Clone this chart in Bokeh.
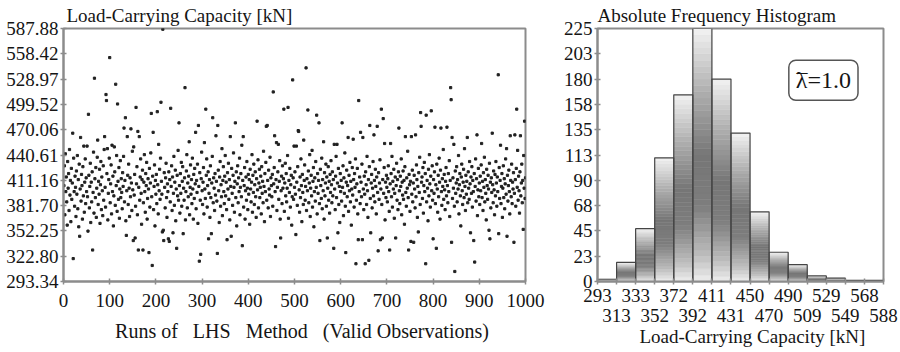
from bokeh.plotting import figure
from bokeh.layouts import row
from bokeh.models import FixedTicker, LinearAxis, Range1d, Label
from bokeh.embed import file_html
from bokeh.resources import INLINE

# ---------------- data ----------------
load_capacity = [
    405, 428, 371, 442, 398, 415, 386, 359, 433, 402, 419, 376, 447, 394, 411, 363, 425, 389, 408, 466, 320, 437, 398, 381, 416,
    403, 369, 422, 395, 440, 378, 412, 357, 430, 346, 401, 461, 387, 418, 405, 366, 427, 393, 451, 374, 409, 436, 384, 414, 398,
    451, 392, 352, 488, 417, 379, 404, 431, 362, 409, 386, 421, 330, 397, 444, 373, 530, 413, 391, 426, 368, 402, 438, 458, 383,
    410, 395, 424, 361, 406, 433, 377, 415, 399, 370, 428, 388, 447, 462, 403, 380, 511, 504, 419, 448, 365, 396, 412, 437, 554,
    385, 407, 429, 372, 452, 398, 416, 358, 393, 450, 421, 382, 523, 405, 440, 375, 500, 410, 389, 426, 367, 401, 434, 391, 413,
    397, 378, 420, 404, 439, 472, 386, 411, 484, 364, 347, 399, 462, 417, 383, 430, 402, 369, 414, 392, 471, 408, 376, 445, 400,
    341, 450, 394, 418, 344, 381, 496, 407, 427, 371, 468, 330, 403, 462, 388, 415, 436, 396, 360, 412, 423, 330, 385, 409, 441,
    398, 374, 419, 405, 432, 366, 390, 413, 401, 327, 425, 380, 408, 443, 489, 392, 312, 416, 467, 377, 404, 429, 358, 411, 395,
    418, 384, 491, 406, 372, 453, 399, 424, 389, 437, 502, 410, 395, 351, 587, 353, 341, 420, 403, 379, 414, 431, 391, 368, 407,
    398, 343, 421, 340, 412, 386, 495, 404, 428, 376, 415, 350, 396, 439, 382, 409, 423, 364, 401, 332, 417, 393, 446, 388, 478,
    405, 373, 419, 396, 432, 381, 410, 427, 349, 402, 388, 414, 519, 365, 398, 422, 441, 379, 408, 392, 416, 456, 371, 403, 429,
    395, 412, 384, 437, 401, 366, 418, 390, 425, 407, 467, 378, 411, 397, 430, 361, 475, 404, 317, 420, 388, 325, 413, 444, 399,
    383, 409, 426, 372, 455, 401, 390, 494, 417, 436, 380, 405, 421, 343, 396, 412, 368, 428, 391, 349, 408, 439, 484, 385, 414,
    402, 376, 419, 394, 463, 410, 387, 326, 475, 423, 399, 362, 415, 433, 381, 406, 392, 448, 370, 411, 427, 398, 384, 416, 440,
    393, 409, 377, 342, 420, 401, 431, 389, 412, 365, 462, 404, 346, 425, 396, 382, 417, 443, 403, 374, 410, 478, 391, 421, 358,
    407, 428, 385, 414, 398, 437, 371, 403, 419, 392, 452, 335, 411, 462, 380, 405, 426, 366, 399, 415, 388, 433, 402, 377, 418,
    395, 412, 360, 424, 401, 386, 409, 441, 374, 417, 397, 430, 383, 406, 421, 392, 368, 413, 480, 400, 435, 379, 408, 424, 391,
    403, 416, 372, 427, 396, 410, 385, 445, 404, 363, 419, 398, 432, 474, 388, 475, 411, 379, 423, 401, 394, 438, 369, 414, 405,
    392, 418, 381, 514, 407, 426, 463, 398, 334, 412, 455, 376, 403, 421, 453, 389, 410, 434, 366, 344, 399, 416, 384, 428, 402,
    413, 494, 375, 408, 431, 393, 419, 386, 402, 440, 496, 367, 411, 397, 425, 380, 406, 417, 359, 392, 528, 414, 389, 451, 403,
    421, 395, 348, 451, 409, 382, 427, 469, 468, 400, 374, 415, 391, 436, 405, 363, 418, 397, 383, 458, 411, 429, 388, 404, 542,
    376, 413, 399, 493, 422, 385, 408, 441, 369, 402, 417, 393, 446, 380, 410, 426, 357, 398, 414, 387, 433, 403, 487, 372, 419,
    396, 411, 478, 384, 341, 424, 405, 390, 437, 378, 412, 399, 456, 366, 420, 393, 408, 430, 381, 415, 344, 402, 427, 388, 410,
    373, 418, 397, 434, 406, 385, 421, 393, 412, 332, 453, 401, 377, 416, 439, 391, 453, 408, 350, 425, 383, 404, 362, 419, 398,
    411, 387, 478, 403, 428, 370, 414, 396, 443, 381, 327, 409, 423, 392, 405, 461, 375, 417, 399, 432, 386, 410, 359, 401, 426,
    394, 459, 412, 380, 419, 403, 436, 314, 388, 407, 425, 372, 342, 504, 398, 415, 384, 467, 409, 392, 430, 342, 461, 401, 377,
    416, 395, 314, 421, 406, 383, 439, 399, 368, 412, 318, 427, 475, 390, 350, 408, 418, 379, 402, 433, 393, 464, 411, 386, 424,
    404, 372, 415, 474, 397, 329, 420, 389, 408, 435, 342, 401, 494, 383, 344, 412, 483, 396, 426, 454, 365, 409, 391, 417, 403,
    386, 413, 428, 398, 375, 330, 407, 454, 419, 392, 439, 380, 410, 401, 424, 367, 396, 415, 344, 405, 431, 388, 412, 377, 421,
    472, 399, 384, 416, 404, 436, 371, 409, 394, 422, 389, 411, 360, 427, 462, 397, 381, 414, 402, 445, 391, 330, 418, 406, 375,
    410, 340, 462, 395, 423, 386, 408, 339, 417, 401, 379, 464, 392, 429, 412, 368, 404, 351, 420, 397, 438, 383, 490, 474, 409,
    415, 390, 426, 373, 405, 432, 398, 419, 314, 487, 386, 411, 402, 364, 424, 393, 441, 407, 380, 416, 492, 399, 428, 388, 343,
    412, 396, 421, 473, 384, 406, 332, 430, 401, 374, 417, 392, 437, 409, 366, 423, 472, 398, 382, 413, 404, 447, 389, 418, 400,
    377, 410, 426, 393, 473, 405, 385, 419, 398, 434, 369, 411, 519, 505, 339, 461, 390, 414, 402, 453, 381, 305, 422, 396, 408,
    427, 386, 412, 401, 440, 372, 406, 419, 393, 358, 415, 430, 399, 383, 409, 424, 391, 448, 404, 376, 417, 395, 410, 461, 385,
    421, 402, 389, 433, 407, 350, 415, 396, 427, 380, 411, 398, 341, 419, 316, 404, 436, 387, 413, 464, 370, 400, 425, 392, 408,
    383, 416, 399, 429, 454, 391, 410, 376, 420, 403, 438, 386, 412, 396, 365, 424, 405, 389, 417, 401, 353, 431, 343, 409, 379,
    414, 397, 466, 406, 385, 422, 400, 371, 418, 393, 433, 408, 381, 415, 398, 534, 349, 426, 390, 411, 452, 384, 404, 419, 368,
    402, 428, 391, 413, 378, 407, 436, 395, 448, 346, 417, 387, 405, 423, 398, 372, 463, 411, 392, 430, 384, 409, 401, 420, 339,
    396, 464, 412, 381, 425, 494, 403, 446, 388, 416, 399, 373, 421, 463, 393, 408, 430, 385, 411, 354, 440, 402, 480, 390, 414,
]
runs = list(range(1, len(load_capacity) + 1))

run_ticks = [0, 100, 200, 300, 400, 500, 600, 700, 800, 900, 1000]
capacity_ticks = [293.34, 322.80, 352.25, 381.70, 411.16, 440.61, 470.06, 499.52, 528.97, 558.42, 587.88]
capacity_tick_labels = ["293.34", "322.80", "352.25", "381.70", "411.16", "440.61",
                        "470.06", "499.52", "528.97", "558.42", "587.88"]

bin_edges = [293.34, 312.98, 332.61, 352.25, 371.89, 391.52, 411.16, 430.80,
             450.43, 470.07, 489.70, 509.34, 528.98, 548.61, 568.25, 587.88]
bin_edge_labels = ["293", "313", "333", "352", "372", "392", "411", "431",
                   "450", "470", "490", "509", "529", "549", "568", "588"]
bin_counts = [2, 17, 47, 110, 166, 225, 180, 132, 62, 26, 15, 5, 3, 1, 1]

freq_ticks = [0, 22.5, 45, 67.5, 90, 112.5, 135, 157.5, 180, 202.5, 225]
freq_tick_labels = ["0", "23", "45", "68", "90", "113", "135", "158", "180", "203", "225"]

FONT = "Liberation Serif"
TXT = "#151515"
AX = "#8c8c8c"


def style_axis(ax, size="19px"):
    ax.axis_line_color = AX
    ax.axis_line_width = 2
    ax.major_tick_line_color = AX
    ax.major_tick_line_width = 1.5
    ax.major_tick_in = 3
    ax.major_tick_out = 3
    ax.minor_tick_line_color = None
    ax.major_label_text_font = FONT
    ax.major_label_text_font_size = size
    ax.major_label_text_color = TXT
    ax.axis_label_text_font = FONT
    ax.axis_label_text_font_style = "normal"
    ax.axis_label_text_color = TXT


def style_frame(p):
    p.title.text_font = FONT
    p.title.text_font_size = "19px"
    p.title.text_font_style = "normal"
    p.title.text_color = TXT
    p.title.standoff = 5
    p.grid.visible = False
    p.outline_line_color = AX
    p.outline_line_width = 2


# ---------------- left: scatter ----------------
p1 = figure(width=560, height=352, output_backend="svg", toolbar_location=None,
            x_range=Range1d(0, 1000), y_range=Range1d(293.34, 587.88),
            min_border_left=63, min_border_right=35, min_border_top=28, min_border_bottom=70)
p1.title.text = "Load-Carrying Capacity [kN]"
style_frame(p1)
p1.title.offset = 3

style_axis(p1.xaxis[0])
style_axis(p1.yaxis[0])
p1.xaxis.ticker = FixedTicker(ticks=run_ticks)
p1.yaxis.ticker = FixedTicker(ticks=capacity_ticks)
p1.yaxis.major_label_overrides = {t: l for t, l in zip(capacity_ticks, capacity_tick_labels)}
p1.xaxis.major_label_standoff = 9
p1.yaxis.major_label_standoff = 2
p1.xaxis.axis_label = "\u00a0\u00a0\u00a0Runs of\u00a0\u00a0 LHS\u00a0\u00a0 Method\u00a0\u00a0 (Valid Observations)"
p1.xaxis.axis_label_text_font_size = "20px"
p1.xaxis.axis_label_standoff = 10

p1.scatter(runs, load_capacity, marker="square", size=2.2, color="#202020")

# ---------------- right: histogram ----------------
p2 = figure(width=340, height=352, output_backend="svg", toolbar_location=None,
            x_range=Range1d(bin_edges[0], bin_edges[-1]), y_range=Range1d(0, 225),
            min_border_left=35, min_border_right=17, min_border_top=28, min_border_bottom=71)
p2.title.text = "Absolute Frequency Histogram"
style_frame(p2)
p2.title.offset = 0

style_axis(p2.yaxis[0])
p2.yaxis.ticker = FixedTicker(ticks=freq_ticks)
p2.yaxis.major_label_overrides = {t: l for t, l in zip(freq_ticks, freq_tick_labels)}
p2.yaxis.major_label_standoff = 2

ax_top = p2.xaxis[0]
style_axis(ax_top)
ax_top.ticker = FixedTicker(ticks=bin_edges)
ax_top.major_label_overrides = {t: (l if i % 2 == 0 else "") for i, (t, l) in
                                enumerate(zip(bin_edges, bin_edge_labels))}
ax_top.major_label_standoff = 4

ax_bot = LinearAxis(ticker=FixedTicker(ticks=bin_edges[1::2]))
style_axis(ax_bot)
ax_bot.axis_line_color = None
ax_bot.major_tick_line_color = None
ax_bot.major_tick_in = 0
ax_bot.major_tick_out = 0
ax_bot.major_label_overrides = {t: l for t, l in zip(bin_edges[1::2], bin_edge_labels[1::2])}
ax_bot.major_label_standoff = 4
ax_bot.axis_label = "\u00a0\u00a0\u00a0\u00a0\u00a0Load-Carrying Capacity [kN]"
ax_bot.axis_label_text_font_size = "19px"
ax_bot.axis_label_standoff = 1
p2.add_layout(ax_bot, "below")

# gradient bars built from stacked slices of each bar
profile = [(0.0, 238), (0.1, 190), (0.3, 125), (0.5, 118), (0.75, 175), (1.0, 242)]


def shade(f):
    for (f0, g0), (f1, g1) in zip(profile[:-1], profile[1:]):
        if f0 <= f <= f1:
            g = g0 + (g1 - g0) * (f - f0) / (f1 - f0)
            g = int(round(g))
            return "#%02x%02x%02x" % (g, g, g)
    return "#ffffff"


N = 40
L, R, B, T, C = [], [], [], [], []
for i, c in enumerate(bin_counts):
    for j in range(N):
        L.append(bin_edges[i])
        R.append(bin_edges[i + 1])
        B.append(c * j / N)
        T.append(c * (j + 1) / N)
        C.append(shade((j + 0.5) / N))
p2.quad(left=L, right=R, bottom=B, top=T, fill_color=C, line_color=C, line_width=0.5)
p2.quad(left=bin_edges[:-1], right=bin_edges[1:], bottom=0, top=bin_counts,
        fill_color=None, line_color="#454545", line_width=1.2)

p2.add_layout(Label(x=526, y=179, text="\u03bb=1.0", text_font=FONT, text_font_size="24px",
                    text_color=TXT, text_align="center", text_baseline="middle",
                    border_line_color="#555555", border_line_width=1.5, border_radius=7,
                    background_fill_color="white", padding=7))
p2.add_layout(Label(x=504, y=178, text="\u00af", text_font=FONT, text_font_size="22px",
                    text_color=TXT, text_align="center", text_baseline="middle"))

layout = row(p1, p2)
open("out.html", "w").write(file_html(layout, INLINE))
